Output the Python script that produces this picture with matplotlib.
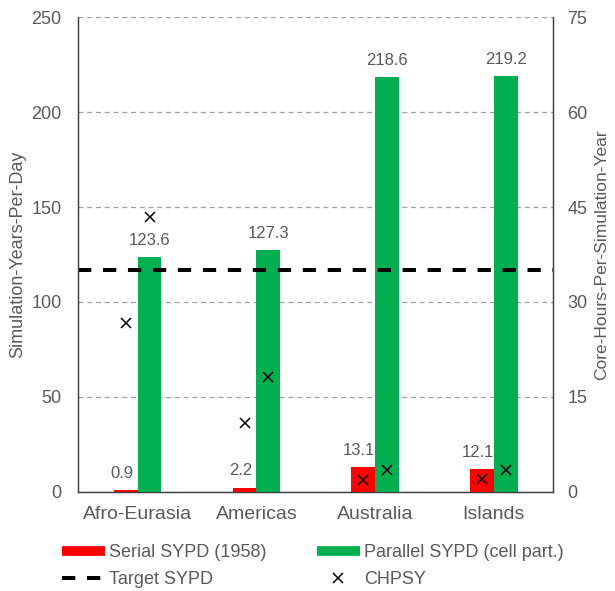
import matplotlib.pyplot as plt
import numpy as np
from matplotlib.lines import Line2D

plt.rcParams['font.family'] = ['Liberation Sans', 'DejaVu Sans']

# datos
regiones = ['Afro-Eurasia', 'Americas', 'Australia', 'Islands']
sypd_serie = [0.9, 2.2, 13.1, 12.1]
sypd_paralelo = [123.6, 127.3, 218.6, 219.2]
chpsy_serie = [26.7, 10.9, 1.8, 2.0]
chpsy_paralelo = [43.5, 18.1, 3.5, 3.5]
sypd_objetivo = 116.7

gris = '#595959'
rojo = '#FF0000'
verde = '#00B050'
guiones = (3.3, 2.9)

fig = plt.figure(figsize=(6.15, 5.91), dpi=100)
ax = fig.add_axes([0.1273, 0.168, 0.7724, 0.8027])
ax2 = ax.twinx()

x = np.arange(len(regiones))
ancho = 0.2

ax.bar(x - ancho / 2, sypd_serie, ancho, color=rojo, zorder=3)
ax.bar(x + ancho / 2, sypd_paralelo, ancho, color=verde, zorder=3)

# etiquetas de valores encima de las barras
for i in range(len(regiones)):
    ax.annotate(f'{sypd_serie[i]:.1f}', (x[i] - ancho / 2, sypd_serie[i]),
                xytext=(-3, 12), textcoords='offset points',
                ha='center', va='center', fontsize=12, color=gris)
    ax.annotate(f'{sypd_paralelo[i]:.1f}', (x[i] + ancho / 2, sypd_paralelo[i]),
                xytext=(0, 12), textcoords='offset points',
                ha='center', va='center', fontsize=12, color=gris)

ax.axhline(sypd_objetivo, color='black', lw=2.9, dashes=guiones, zorder=4)

ax.set_xlim(-0.5, 3.5)
ax.set_ylim(0, 250)
ax.set_yticks(np.arange(0, 251, 50))
ax.yaxis.grid(True, linestyle=(0, (4, 3)), color='#a0a0a0', lw=0.9, zorder=0)
ax.set_axisbelow(True)
ax.set_xticks(x)
ax.set_xticklabels(regiones)
ax.tick_params(axis='both', length=0, labelsize=13, colors=gris)
ax.tick_params(axis='x', pad=10, labelsize=14)
ax.tick_params(axis='y', pad=12)
ax.set_ylabel('Simulation-Years-Per-Day', fontsize=13, color=gris, labelpad=4)

ax2.plot(x - ancho / 2, chpsy_serie, 'x', color='black', ms=7, mew=1.1, zorder=5)
ax2.plot(x + ancho / 2, chpsy_paralelo, 'x', color='black', ms=7, mew=1.1, zorder=5)
ax2.set_ylim(0, 75)
ax2.set_yticks(np.arange(0, 76, 15))
ax2.tick_params(axis='y', length=0, labelsize=13, colors=gris, pad=10)
ax2.set_ylabel('Core-Hours-Per-Simulation-Year', fontsize=12.5, color=gris, labelpad=5)

for a in (ax, ax2):
    a.spines['top'].set_visible(False)
    for s in ('left', 'right', 'bottom'):
        a.spines[s].set_color('#404040')
        a.spines[s].set_linewidth(0.9)

manejadores = [
    Line2D([0], [0], color=rojo, lw=7, solid_capstyle='butt'),
    Line2D([0], [0], color=verde, lw=7, solid_capstyle='butt'),
    Line2D([0], [0], color='black', lw=2.9, dashes=guiones),
    Line2D([0], [0], color='black', marker='x', ls='none', ms=7, mew=1.1),
]
etiquetas = ['Serial SYPD (1958)', 'Parallel SYPD (cell part.)', 'Target SYPD', 'CHPSY']
# orden por filas con ncol=2
orden = [0, 2, 1, 3]
leg = fig.legend([manejadores[i] for i in orden], [etiquetas[i] for i in orden],
                 ncol=2, loc='center left', bbox_to_anchor=(0.074, 0.042),
                 frameon=False, fontsize=13, handlelength=2.4, handletextpad=0.2,
                 columnspacing=2.8, labelspacing=0.55)
for t in leg.get_texts():
    t.set_color(gris)

fig.savefig('out.png', dpi=100)
